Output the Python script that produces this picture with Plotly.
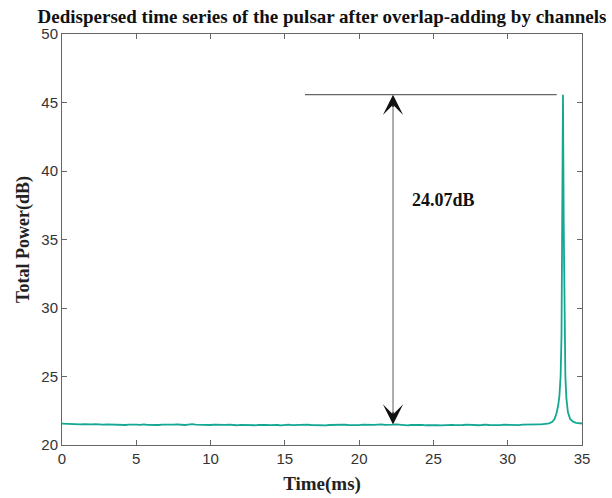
import plotly.graph_objects as go

# Baseline of the dedispersed series, sampled every 0.25 ms from 0 to 32.25 ms
baseline_t0 = 0.0
baseline_dt = 0.25
baseline_power = [
    21.56, 21.54, 21.55, 21.52, 21.53, 21.50, 21.52, 21.49, 21.51, 21.53,
    21.50, 21.48, 21.51, 21.49, 21.47, 21.50, 21.48, 21.46, 21.49, 21.51,
    21.48, 21.47, 21.50, 21.47, 21.45, 21.48, 21.46, 21.49, 21.47, 21.45,
    21.48, 21.50, 21.47, 21.46, 21.49, 21.52, 21.49, 21.47, 21.45, 21.48,
    21.46, 21.49, 21.47, 21.45, 21.47, 21.49, 21.46, 21.44, 21.47, 21.45,
    21.48, 21.46, 21.44, 21.47, 21.49, 21.46, 21.45, 21.48, 21.46, 21.43,
    21.46, 21.48, 21.45, 21.47, 21.44, 21.46, 21.49, 21.46, 21.44, 21.47,
    21.45, 21.43, 21.46, 21.48, 21.45, 21.47, 21.49, 21.46, 21.44, 21.47,
    21.45, 21.48, 21.46, 21.44, 21.47, 21.49, 21.51, 21.47, 21.45, 21.48,
    21.50, 21.47, 21.45, 21.43, 21.46, 21.48, 21.45, 21.47, 21.44, 21.46,
    21.48, 21.45, 21.43, 21.46, 21.44, 21.47, 21.45, 21.43, 21.46, 21.48,
    21.45, 21.47, 21.44, 21.46, 21.49, 21.46, 21.44, 21.47, 21.45, 21.48,
    21.46, 21.49, 21.47, 21.45, 21.48, 21.50, 21.47, 21.49, 21.51, 21.50,
]

# Pulse region (ms, dB)
pulse_time = [32.50, 32.80, 33.00, 33.15, 33.28, 33.40, 33.48, 33.56, 33.62,
              33.67, 33.72, 33.77, 33.82, 33.88, 33.95, 34.05, 34.20, 34.40,
              34.60, 34.80, 35.00]
pulse_power = [21.52, 21.58, 21.70, 21.90, 22.30, 22.90, 23.60, 25.00, 28.00,
               34.00, 45.57, 36.00, 29.00, 25.00, 23.40, 22.40, 21.90, 21.70,
               21.62, 21.58, 21.57]

baseline_level = 21.50
peak_level = 45.57
arrow_time = 22.28
marker_line_start = 16.35
marker_line_end = 33.30
gain_label = "24.07dB"

baseline_time = [baseline_t0 + i * baseline_dt for i in range(len(baseline_power))]
time_ms = baseline_time + pulse_time
power_db = baseline_power + pulse_power

serif = "Liberation Serif, Times New Roman, serif"
sans = "Liberation Sans, Arial, sans-serif"

fig = go.Figure()
fig.add_trace(go.Scatter(
    x=time_ms, y=power_db, mode="lines",
    line=dict(color="#14A793", width=1.8),
    hoverinfo="skip", showlegend=False,
))

# Horizontal reference at the pulse peak
fig.add_shape(type="line", xref="x", yref="y",
              x0=marker_line_start, x1=marker_line_end,
              y0=peak_level, y1=peak_level,
              line=dict(color="#666666", width=1.2))

# Gray shaft of the measurement arrow
fig.add_shape(type="line", xref="x", yref="y",
              x0=arrow_time, x1=arrow_time,
              y0=baseline_level + 0.5, y1=peak_level - 0.5,
              line=dict(color="#777777", width=1.2))

# Black notched arrowheads at both ends
head_tail = 1.0
for tip, tail in ((peak_level, peak_level - head_tail),
                  (baseline_level, baseline_level + head_tail)):
    fig.add_annotation(x=arrow_time, y=tip, ax=arrow_time, ay=tail,
                       xref="x", yref="y", axref="x", ayref="y",
                       text="", showarrow=True, arrowhead=3,
                       arrowsize=2.6, arrowwidth=1.3, arrowcolor="#111111")

fig.add_annotation(x=25.7, y=37.9, xref="x", yref="y", text=gain_label,
                   showarrow=False,
                   font=dict(family=serif, size=18, color="#111111", weight="bold"))

axis_common = dict(
    showgrid=False, zeroline=False, showline=True, linecolor="#666666",
    linewidth=1, mirror="ticks", ticks="inside", ticklen=5, tickcolor="#666666",
    tickfont=dict(family=sans, size=15, color="#333333"), automargin=False,
)

fig.update_xaxes(range=[0, 35], tick0=0, dtick=5, **axis_common,
                 title=dict(text="Time(ms)", standoff=10,
                            font=dict(family=serif, size=19, color="#222222", weight="bold")))
fig.update_yaxes(range=[20, 50], tick0=20, dtick=5, **axis_common,
                 title=dict(text="Total Power(dB)", standoff=7,
                            font=dict(family=serif, size=18, color="#222222", weight="bold")))

fig.update_layout(
    width=612, height=498,
    margin=dict(l=62, r=30, t=34, b=53),
    paper_bgcolor="white", plot_bgcolor="white",
    title=dict(text="Dedispersed time series of the pulsar after overlap-adding by channels",
               x=(62 + 260) / 612, xanchor="center", y=1 - 16 / 498, yanchor="middle",
               font=dict(family=serif, size=19, color="#111111", weight="bold")),
)

fig.write_html("out.html")
